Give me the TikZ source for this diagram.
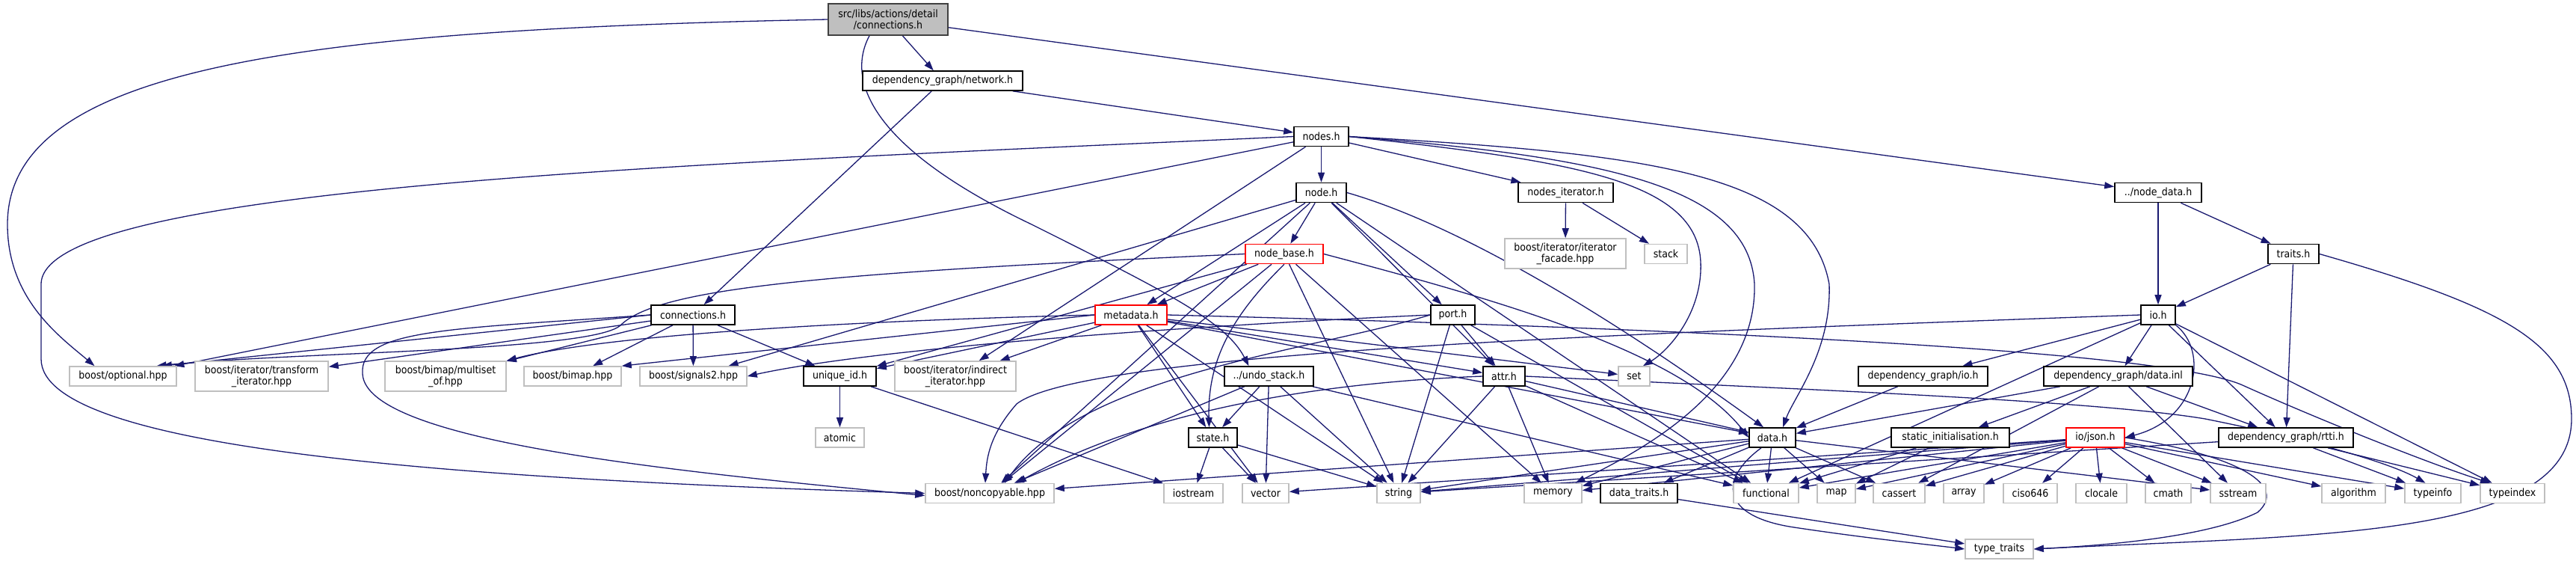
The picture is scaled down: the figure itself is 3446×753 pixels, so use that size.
\documentclass[tikz,border=0pt]{standalone}
\usepackage{fontspec}
\setmainfont{DejaVu Sans}[FakeStretch=0.9]
\usetikzlibrary{arrows.meta}
\definecolor{edgec}{HTML}{191970}
\definecolor{gbox}{HTML}{BFBFBF}
\definecolor{rbox}{HTML}{FF0000}
\pgfdeclarelayer{bg}
\pgfsetlayers{bg,main}
\tikzset{
 box/.style={rectangle, inner sep=0pt, font=\fontsize{14}{15}\selectfont, align=center, line width=1.6pt},
 proj/.style={box, draw=black, fill=white},
 ext/.style={box, draw=gbox, fill=white},
 trn/.style={box, draw=rbox, fill=white},
 rootbox/.style={box, draw=black!75, fill=gbox},
 lk/.style={draw=edgec, line width=1.3pt, -{Triangle[length=13pt,width=9pt]}},
}
\newcommand{\nd}[7]{\node[#6, minimum width=#4pt, minimum height=#5pt] (#1) at (#2,#3) {#7};}
\begin{document}
\begin{tikzpicture}[x=1pt,y=-1pt]
\useasboundingbox (0,0) rectangle (3446,753);
% nodes
\nd{root}{1188}{26}{160}{42}{rootbox}{src/libs/actions/detail\\/connections.h}
\nd{network}{1261}{108}{214}{26}{proj}{dependency\_graph/network.h}
\nd{nodes}{1767.5}{182.5}{73}{26}{proj}{nodes.h}
\nd{node}{1767.5}{257.5}{67}{26}{proj}{node.h}
\nd{nodesit}{2094.5}{257.5}{127}{26}{proj}{nodes\_iterator.h}
\nd{nodedata}{2887}{257.5}{116}{26}{proj}{../node\_data.h}
\nd{nodebase}{1718}{339.5}{104}{26}{trn}{node\_base.h}
\nd{iterfacade}{2094}{339}{162}{40}{ext}{boost/iterator/iterator\\\_facade.hpp}
\nd{stack}{2228.5}{339.5}{57}{26}{ext}{stack}
\nd{traits}{3068}{339.5}{68}{26}{proj}{traits.h}
\nd{conn}{927}{421}{112}{26}{proj}{connections.h}
\nd{metadata}{1513}{421}{96}{26}{trn}{metadata.h}
\nd{port}{1943.5}{421}{59}{26}{proj}{port.h}
\nd{io}{2887}{421}{46}{26}{proj}{io.h}
\nd{optional}{164.5}{503}{143}{26}{ext}{boost/optional.hpp}
\nd{transform}{350}{503}{178}{40}{ext}{boost/iterator/transform\\\_iterator.hpp}
\nd{multiset}{596}{503}{162}{40}{ext}{boost/bimap/multiset\\\_of.hpp}
\nd{bimap}{766}{503}{130}{26}{ext}{boost/bimap.hpp}
\nd{signals2}{927.5}{503}{143}{26}{ext}{boost/signals2.hpp}
\nd{uniqueid}{1123.5}{503}{97}{26}{proj}{unique\_id.h}
\nd{indirect}{1278}{503}{162}{40}{ext}{boost/iterator/indirect\\\_iterator.hpp}
\nd{undostack}{1697.5}{503}{119}{26}{proj}{../undo\_stack.h}
\nd{attr}{2012}{503}{56}{26}{proj}{attr.h}
\nd{set}{2186}{503}{42}{26}{ext}{set}
\nd{dgio}{2572.5}{503}{173}{26}{proj}{dependency\_graph/io.h}
\nd{datainl}{2833.5}{503}{199}{26}{proj}{dependency\_graph/data.inl}
\nd{atomic}{1123.5}{585}{65}{26}{ext}{atomic}
\nd{state}{1622.5}{585}{65}{26}{proj}{state.h}
\nd{data}{2371}{585}{62}{26}{proj}{data.h}
\nd{staticinit}{2609}{585}{158}{26}{proj}{static\_initialisation.h}
\nd{json}{2803}{585}{78}{26}{trn}{io/json.h}
\nd{rtti}{3058}{585}{180}{26}{proj}{dependency\_graph/rtti.h}
\nd{noncopyable}{1324}{659.5}{172}{26}{ext}{boost/noncopyable.hpp}
\nd{iostream}{1596.5}{659.5}{79}{26}{ext}{iostream}
\nd{vector}{1693}{659.5}{62}{26}{ext}{vector}
\nd{string}{1871}{659.5}{58}{26}{ext}{string}
\nd{memory}{2077.5}{659.5}{77}{26}{ext}{memory}
\nd{datatraits}{2192.5}{659.5}{103}{26}{proj}{data\_traits.h}
\nd{functional}{2362.5}{659.5}{87}{26}{ext}{functional}
\nd{map}{2456.5}{659.5}{51}{26}{ext}{map}
\nd{cassert}{2540.5}{659.5}{69}{26}{ext}{cassert}
\nd{array}{2627}{659.5}{54}{26}{ext}{array}
\nd{ciso646}{2716}{659.5}{72}{26}{ext}{ciso646}
\nd{clocale}{2811}{659.5}{68}{26}{ext}{clocale}
\nd{cmath}{2900.5}{659.5}{61}{26}{ext}{cmath}
\nd{sstream}{2994}{659.5}{74}{26}{ext}{sstream}
\nd{algorithm}{3148.5}{659.5}{85}{26}{ext}{algorithm}
\nd{typeinfo}{3254.5}{659.5}{75}{26}{ext}{typeinfo}
\nd{typeindex}{3361}{659.5}{86}{26}{ext}{typeindex}
\nd{typetraits}{2674.5}{734}{91}{26}{ext}{type\_traits}
\begin{pgfonlayer}{bg}
\fill[white] (0,0) rectangle (3446,753);
\foreach \a/\b in {root/network, root/nodedata, network/conn, network/nodes,
  nodes/node, nodes/nodesit, nodes/optional, nodes/indirect,
  nodesit/iterfacade, nodesit/stack,
  node/metadata, node/nodebase, node/port, node/attr, node/signals2, node/noncopyable, node/functional,
  nodebase/uniqueid, nodebase/metadata, nodebase/string, nodebase/memory, nodebase/noncopyable,
  nodedata/io, nodedata/traits, traits/io, traits/rtti,
  conn/transform, conn/multiset, conn/bimap, conn/signals2, conn/uniqueid,
  metadata/uniqueid, metadata/indirect, metadata/attr, metadata/string, metadata/vector,
  metadata/state, metadata/set, metadata/data,
  port/attr, port/string, port/functional,
  io/dgio, io/datainl, io/rtti, io/typeindex, io/functional,
  datainl/data, datainl/staticinit, datainl/cassert, datainl/sstream, datainl/rtti,
  dgio/data,
  data/functional, data/map, data/cassert, data/sstream, data/noncopyable, data/string, data/memory, data/datatraits,
  staticinit/functional, staticinit/map,
  json/functional, json/map, json/cassert, json/array, json/ciso646, json/clocale, json/cmath,
  json/sstream, json/algorithm, json/typeinfo, json/string, json/vector, json/memory,
  rtti/typeinfo, rtti/typeindex, rtti/string,
  attr/string, attr/memory, attr/data, attr/functional,
  undostack/state, undostack/vector, undostack/string, undostack/noncopyable, undostack/functional,
  state/iostream, state/vector, state/string,
  uniqueid/atomic, uniqueid/iostream, datatraits/typetraits}
  \draw[lk] (\a) -- (\b);
\draw[lk] (conn.west) -- ([xshift=-20pt]optional.north east);
\draw[lk] (metadata.west) -- (bimap.north east);
\draw[lk] (metadata.west) .. controls (1100,430) and (800,450) .. (multiset.north east);
\draw[lk] (root.west) .. controls (400,40) and (10,90) .. (10,300) .. controls (10,400) and (80,450) .. ([xshift=-38pt]optional.north);
\draw[lk] ([xshift=-25pt]root.south) .. controls (1130,110) and (1170,200) .. (1380,300) .. controls (1560,390) and (1640,430) .. ([xshift=-27pt]undostack.north);
\draw[lk] (nodes.west) .. controls (900,220) and (55,250) .. (55,380) -- (55,480) .. controls (55,600) and (600,640) .. (noncopyable.west);
\draw[lk] (conn.west) .. controls (600,440) and (480,440) .. (485,500) .. controls (490,590) and (900,630) .. ([yshift=-3pt]noncopyable.west);
\draw[lk] (nodes.east) .. controls (2200,205) and (2420,230) .. (2447,380) .. controls (2450,470) and (2400,530) .. ([xshift=14pt]data.north);
\draw[lk] (nodes.east) .. controls (2150,210) and (2340,250) .. (2347,380) .. controls (2350,520) and (2200,600) .. ([xshift=30pt]memory.north);
\draw[lk] (nodes.east) .. controls (2100,215) and (2270,240) .. (2275,350) .. controls (2278,420) and (2230,470) .. ([xshift=12pt]set.north);
\draw[lk] (node.east) .. controls (1950,300) and (2150,420) .. ([xshift=-12pt]data.north);
\draw[lk] (nodebase.west) .. controls (1100,365) and (880,385) .. (830,435) .. controls (790,470) and (400,470) .. ([xshift=45pt]optional.north);
\draw[lk] (nodebase.south) .. controls (1650,420) and (1615,480) .. ([xshift=-5pt]state.north);
\draw[lk] (nodebase.east) .. controls (2000,400) and (2250,470) .. (data.west);
\draw[lk] (port.west) .. controls (1500,440) and (1150,470) .. (signals2.east);
\draw[lk] (port.west) .. controls (1750,470) and (1450,500) .. ([xshift=20pt]noncopyable.north);
\draw[lk] (attr.west) .. controls (1800,510) and (1550,540) .. ([xshift=36pt]noncopyable.north);
\draw[lk] (io.west) .. controls (2200,445) and (1450,470) .. (1360,540) .. controls (1325,580) and (1320,610) .. ([xshift=-6pt]noncopyable.north);
\draw[lk] (io.south east) .. controls (2955,470) and (2940,560) .. (json.east);
\draw[lk] (metadata.east) .. controls (2300,440) and (2900,470) .. (3000,515) .. controls (3100,560) and (3250,620) .. ([xshift=-30pt]typeindex.north);
\draw[lk] (attr.east) .. controls (2400,520) and (2800,535) .. (2950,560) .. controls (3100,590) and (3200,620) .. ([xshift=-10pt]typeinfo.north);
\draw[lk] (traits.east) .. controls (3350,410) and (3440,460) .. (3440,560) .. controls (3440,720) and (3100,715) .. (typetraits.east);
\draw[lk] (json.east) .. controls (3000,610) and (3060,650) .. (3020,685) .. controls (2950,720) and (2800,730) .. (typetraits.east);
\draw[lk] ([xshift=-15pt]data.south) .. controls (2300,640) and (2300,690) .. (2400,705) .. controls (2500,720) and (2580,728) .. (typetraits.west);
\end{pgfonlayer}
\end{tikzpicture}
\end{document}
